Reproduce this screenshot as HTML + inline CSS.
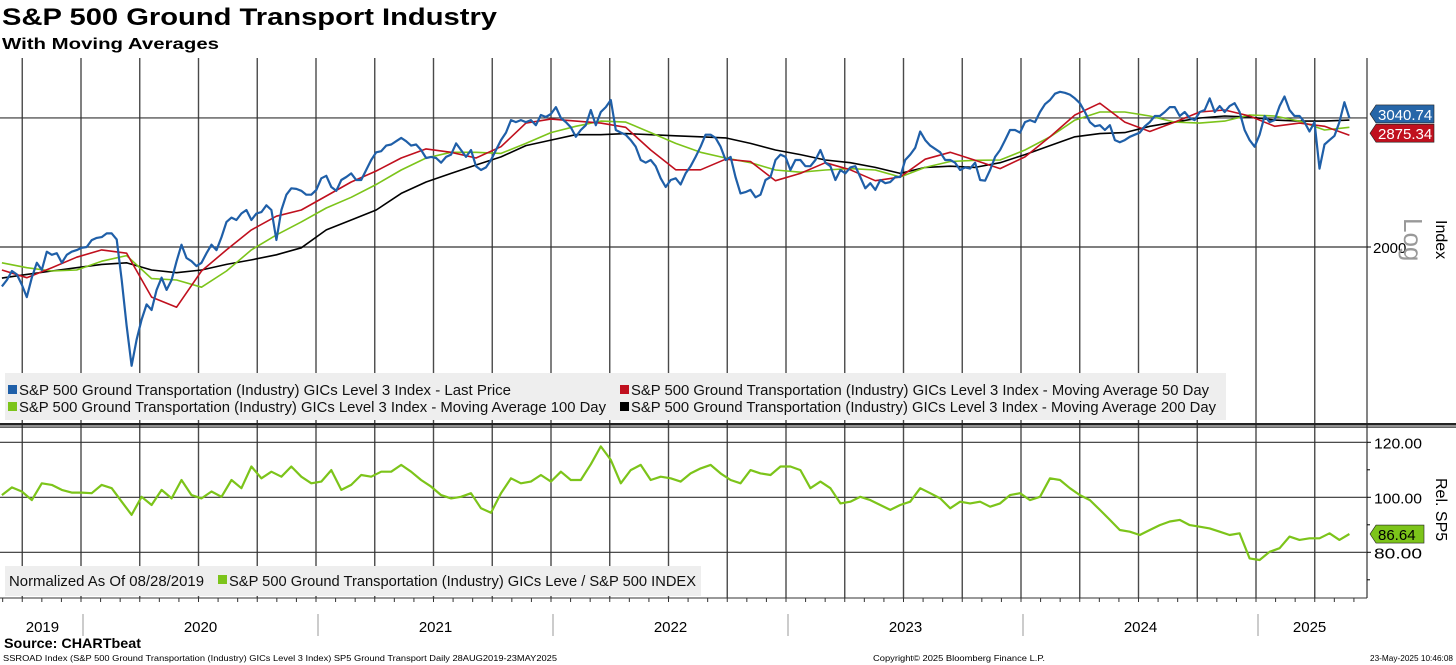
<!DOCTYPE html>
<html><head><meta charset="utf-8">
<style>
html,body{margin:0;padding:0;background:#fff;}
body{width:1456px;height:665px;overflow:hidden;position:relative;font-family:"Liberation Sans",sans-serif;}
svg{position:absolute;left:0;top:0;font-family:"Liberation Sans",sans-serif}
</style></head>
<body>
<svg id="chart" width="1456" height="665"></svg>
<script>
// ---- data ----
const startDate = '2019-08-28';
const endDate = '2025-05-23';
const priceValues = [1760,1797,1850,1830,1770,1700,1810,1900,1856,1970,1950,1960,1900,1950,1970,1980,1995,2000,2045,2060,2065,2090,2090,2050,1797,1550,1360,1480,1580,1660,1630,1740,1810,1740,1797,1910,2015,1930,1910,1880,1900,1960,2015,1980,2065,2170,2200,2183,2230,2255,2183,2230,2240,2290,2255,2046,2255,2370,2420,2415,2400,2370,2370,2407,2500,2520,2430,2400,2486,2510,2540,2486,2486,2568,2653,2720,2730,2780,2790,2820,2850,2820,2780,2790,2740,2670,2680,2670,2630,2680,2700,2800,2740,2680,2740,2600,2568,2590,2653,2740,2830,2900,3020,3000,3020,3000,3020,2970,3070,3050,3080,3150,3040,3000,2950,2860,2924,2970,3120,2970,3100,3150,3223,2924,2900,2880,2830,2770,2653,2630,2653,2600,2500,2430,2486,2500,2450,2540,2600,2680,2770,2880,2880,2850,2770,2653,2680,2510,2380,2390,2407,2350,2370,2486,2510,2653,2700,2680,2568,2653,2653,2600,2600,2653,2740,2630,2600,2486,2568,2540,2590,2600,2510,2420,2460,2407,2486,2460,2470,2510,2510,2653,2700,2760,2910,2830,2780,2750,2720,2653,2653,2630,2568,2590,2580,2630,2486,2480,2568,2680,2740,2830,2924,2924,2900,3000,3020,3000,3100,3180,3223,3290,3310,3300,3280,3240,3190,3100,3000,2960,2970,2924,2970,2830,2810,2830,2860,2880,2900,2960,3000,3060,3060,3100,3150,3150,3060,3100,3040,3020,3100,3120,3240,3100,3160,3100,3160,3190,3100,2924,2830,2770,2880,3060,3000,3020,3160,3260,3120,3060,3060,3000,2910,3000,2580,2790,2830,2870,3000,3200,3040.74];
const ma50Values = [1856,1810,1870,1935,1981,1960,1700,1645,1850,1981,2114,2210,2255,2360,2470,2560,2670,2750,2720,2670,2770,2990,3030,3010,2990,2950,2740,2570,2570,2660,2640,2480,2540,2630,2570,2480,2510,2660,2720,2650,2580,2680,2860,3070,3190,3000,2910,3000,3100,3120,3060,2960,2990,2960,2875.34];
const ma100Values = [1900,1870,1850,1856,1910,1945,1805,1797,1755,1850,1981,2080,2170,2270,2350,2450,2568,2670,2720,2720,2710,2800,2900,2960,3010,3000,2900,2800,2720,2670,2630,2568,2550,2568,2580,2568,2510,2590,2640,2650,2653,2740,2860,3020,3100,3100,3060,3000,2990,3010,3070,3060,3010,2924,2950];
const ma200Values = [1808,1830,1850,1870,1890,1900,1856,1840,1856,1890,1918,1950,1995,2114,2183,2255,2380,2470,2540,2610,2680,2780,2830,2880,2880,2890,2880,2870,2860,2850,2800,2740,2700,2653,2630,2590,2540,2590,2600,2590,2630,2700,2780,2860,2890,2900,2960,3000,3040,3060,3050,3020,3010,3010,3020];
const relValues = [100.8,103.6,102.1,99.0,105.1,104.5,102.7,101.7,101.7,101.5,104.5,103.3,98.4,93.6,100.2,97.2,102.7,99.6,106.3,100.8,99.6,102.1,100.2,106.3,103.3,111.2,106.9,109.3,107.5,111.2,107.5,105.1,105.7,109.9,102.7,104.5,108.1,107.5,109.3,109.3,111.8,109.3,106.3,103.9,100.8,99.6,100.2,101.5,96.0,94.4,101.5,106.9,105.1,105.7,108.1,105.7,109.3,106.3,106.3,112.0,118.5,113.6,105.1,109.9,111.8,106.3,107.5,106.9,105.7,
108.7,110.5,111.8,108.7,106.3,105.1,109.9,108.7,108.1,111.2,111.2,109.9,103.3,105.7,103.3,97.8,98.4,100.2,99.0,97.2,95.4,97.2,98.4,103.3,101.5,99.6,96.0,98.4,97.8,98.4,96.6,97.8,100.8,101.5,99.0,100.2,106.9,106.3,103.3,100.8,99.0,95.4,91.8,88.1,87.5,86.3,88.1,89.9,91.2,91.8,89.9,89.3,88.7,87.5,86.3,86.9,77.8,77.2,80.2,81.5,85.7,84.5,85.1,85.1,86.9,84.5,86.64];
const priceTicks = [2000];
const relTicks = [120, 100, 80];
const relMinorTicks = [130, 110, 90, 70];
const yearLabels = ['2019','2020','2021','2022','2023','2024','2025'];
const yearStarts = [2020,2021,2022,2023,2024,2025];

// ---- scales ----
function decYear(s){const d=new Date(s+'T00:00:00Z');const y=d.getUTCFullYear();const a=Date.UTC(y,0,1),b=Date.UTC(y+1,0,1);return y+(d-a)/(b-a);}
const t0=decYear(startDate), t1=decYear(endDate);
function xScale(t){return 83+(t-2020)*235;}
function yPrice(v){return 247-308*Math.log(v/2000);}
function yRel(v){return 497.3-(v-100)*2.75;}
function seriesT(n,i){return t0+(t1-t0)*i/(n-1);}

const svg=document.getElementById('chart');
const NS='http://www.w3.org/2000/svg';
function mk(tag,attrs,parent){const e=document.createElementNS(NS,tag);for(const k in attrs)e.setAttribute(k,attrs[k]);(parent||svg).appendChild(e);return e;}
function fit(el,len){el.setAttribute('textLength',len);el.setAttribute('lengthAdjust','spacingAndGlyphs');}

const plotR=1367, upTop=58, upBot=424, loTop=428, loBot=598;

// titles
let t=mk('text',{x:2,y:25,'font-size':24,'font-weight':'bold',fill:'#000'});t.textContent='S&P 500 Ground Transport Industry';fit(t,495);


t=mk('text',{x:2,y:49,'font-size':16,'font-weight':'bold',fill:'#000'});t.textContent='With Moving Averages';fit(t,217);



// vertical quarterly gridlines
const grid=mk('g',{});


for(let y=2019;y<=2025;y++){for(let q=0;q<4;q++){const tt=y+q*0.25;if(tt<t0||tt>t1+0.05)continue;const x=xScale(tt)-2;
 mk('line',{x1:x,x2:x,y1:upTop,y2:loBot,stroke:'#4a4a4a','stroke-width':1.4},grid);}}
mk('line',{x1:plotR,x2:plotR,y1:upTop,y2:loBot,stroke:'#333','stroke-width':1.2});

const lastPrice=priceValues[priceValues.length-1];
[lastPrice].concat(priceTicks).forEach(v=>{const y=yPrice(v);
 const l=mk('line',{x1:0,x2:plotR,y1:y,y2:y,stroke:'#333','stroke-width':1.2});
 
 });
priceTicks.forEach(v=>{const y=yPrice(v);
 mk('line',{x1:plotR,x2:plotR+4,y1:y,y2:y,stroke:'#000'});
 const tx=mk('text',{x:plotR+6,y:y+6,'font-size':15,fill:'#000'});tx.textContent=String(v);
 
 });

relTicks.forEach(v=>{const y=yRel(v);
 mk('line',{x1:0,x2:plotR,y1:y,y2:y,stroke:'#333','stroke-width':1.2});
 mk('line',{x1:plotR,x2:plotR+4,y1:y,y2:y,stroke:'#000'});
 const tx=mk('text',{x:plotR+7,y:y+6,'font-size':15,fill:'#000'});tx.textContent=v.toFixed(2);fit(tx,48);
 
 });
relMinorTicks.forEach(v=>{const y=yRel(v);if(y<loTop||y>loBot)return;mk('line',{x1:plotR,x2:plotR+3,y1:y,y2:y,stroke:'#000'});});

function drawLine(vals,yf,color,w,name){
 const pts=vals.map((v,i)=>xScale(seriesT(vals.length,i)).toFixed(1)+','+yf(v).toFixed(1)).join(' ');
 const p=mk('polyline',{points:pts,fill:'none',stroke:color,'stroke-width':w,'stroke-linejoin':'round'});
 
 
}
drawLine(ma200Values,yPrice,'#000',1.6,'ma200-line');
drawLine(ma100Values,yPrice,'#7cc41a',1.6,'ma100-line');
drawLine(ma50Values,yPrice,'#c0101e',1.6,'ma50-line');
drawLine(priceValues,yPrice,'#1f5fa8',2.2,'price-line');
drawLine(relValues,yRel,'#7cc41a',2.2,'relative-line');

mk('rect',{x:0,y:423,width:1456,height:2.5,fill:'#222'});
mk('rect',{x:0,y:426.5,width:1456,height:1.2,fill:'#222'});
mk('line',{x1:0,x2:plotR,y1:loBot,y2:loBot,stroke:'#333','stroke-width':1});
for(let y=2019;y<=2025;y++){for(let m=0;m<12;m++){const tt=y+m/12;if(tt<t0||tt>t1+0.1)continue;const x=xScale(tt)-2;mk('line',{x1:x,x2:x,y1:loBot,y2:loBot+4,stroke:'#333'});}}
yearStarts.forEach(y=>{const x=xScale(y);mk('line',{x1:x,x2:x,y1:614,y2:636,stroke:'#aaa','stroke-width':1.2});});
const bounds=[t0].concat(yearStarts).concat([t1+0.05]);
yearLabels.forEach((lab,i)=>{const xm=(xScale(bounds[i])+xScale(bounds[i+1]))/2;
 const tx=mk('text',{x:xm,y:632,'font-size':15,'text-anchor':'middle',fill:'#000'});tx.textContent=lab;
 
 });

function tag(y,txt,bg,fg,w,name){const g=mk('g',{});
 
 
 mk('path',{d:`M${plotR+3},${y} L${plotR+9},${y-9} L${plotR+9+w},${y-9} L${plotR+9+w},${y+9} L${plotR+9},${y+9} Z`,fill:bg,stroke:'#222','stroke-width':0.6},g);
 const tt=mk('text',{x:plotR+11,y:y+6,'font-size':15,fill:fg},g);tt.textContent=txt;}
tag(yPrice(lastPrice)-4,lastPrice.toFixed(2),'#2666a8','#fff',58,'last-price-tag');
tag(yPrice(ma50Values[ma50Values.length-1])-2,ma50Values[ma50Values.length-1].toFixed(2),'#c0101e','#fff',58,'ma50-tag');
tag(yRel(relValues[relValues.length-1]),relValues[relValues.length-1].toFixed(2),'#7cc41a','#000',48,'rel-last-tag');

t=mk('text',{x:1436,y:220,'font-size':16,fill:'#000',transform:'rotate(90 1436 220)'});t.textContent='Index';


t=mk('text',{x:1404,y:218,'font-size':26,fill:'#999',transform:'rotate(90 1404 218)'});t.textContent='Log';


t=mk('text',{x:1436,y:478,'font-size':16,fill:'#000',transform:'rotate(90 1436 478)'});t.textContent='Rel. SP5';



const lg=mk('g',{});


mk('rect',{x:5,y:373,width:1221,height:47,fill:'#eeeeee'},lg);
const items=[[10,395,'#1f5fa8','S&P 500 Ground Transportation (Industry) GICs Level 3 Index - Last Price',492],
[622,395,'#c0101e','S&P 500 Ground Transportation (Industry) GICs Level 3 Index - Moving Average 50 Day',578],
[10,412,'#7cc41a','S&P 500 Ground Transportation (Industry) GICs Level 3 Index - Moving Average 100 Day',587],
[622,412,'#000','S&P 500 Ground Transportation (Industry) GICs Level 3 Index - Moving Average 200 Day',585]];
items.forEach(it=>{const g=mk('g',{},lg);
 
 
 mk('rect',{x:it[0]-2,y:it[1]-10,width:9,height:9,fill:it[2]},g);
 const tx=mk('text',{x:it[0]+9,y:it[1],'font-size':14.5,fill:'#111'},g);tx.textContent=it[3];fit(tx,it[4]);});
const lg2=mk('g',{});


mk('rect',{x:5,y:566,width:696,height:30,fill:'#eeeeee'},lg2);
t=mk('text',{x:9,y:586,'font-size':14.5,fill:'#111'},lg2);t.textContent='Normalized As Of 08/28/2019';fit(t,195);
mk('rect',{x:218,y:575,width:9,height:9,fill:'#7cc41a'},lg2);
t=mk('text',{x:229,y:586,'font-size':14.5,fill:'#111'},lg2);t.textContent='S&P 500 Ground Transportation (Industry) GICs Leve / S&P 500 INDEX';fit(t,467);

t=mk('text',{x:4,y:648,'font-size':14,'font-weight':'bold',fill:'#000'});t.textContent='Source: CHARTbeat';fit(t,137);


t=mk('text',{x:3,y:661,'font-size':8.6,fill:'#000'});t.textContent='SSROAD Index (S&P 500 Ground Transportation (Industry) GICs Level 3 Index) SP5 Ground Transport  Daily 28AUG2019-23MAY2025';fit(t,554);


t=mk('text',{x:873,y:661,'font-size':8.6,fill:'#000'});t.textContent='Copyright\u00a9 2025 Bloomberg Finance L.P.';fit(t,172);


t=mk('text',{x:1370,y:661,'font-size':8.6,fill:'#000'});t.textContent='23-May-2025 10:46:08';fit(t,83);


</script>
</body></html>
